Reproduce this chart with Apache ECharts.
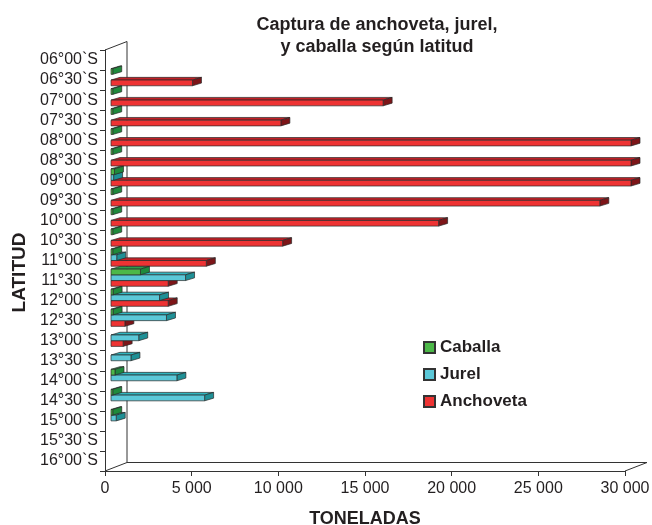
<!DOCTYPE html>
<html>
<head>
<meta charset="utf-8">
<script src="https://cdn.jsdelivr.net/npm/echarts@6/dist/echarts.min.js"></script>
<style>
html,body{margin:0;padding:0;background:#fff;}
#chart{width:652px;height:525px;}
</style>
</head>
<body>
<div id="chart"></div>
<script>
// ---- data ----
const latitudes = ['06°00`S','06°30`S','07°00`S','07°30`S','08°00`S','08°30`S','09°00`S','09°30`S','10°00`S','10°30`S','11°00`S','11°30`S','12°00`S','12°30`S','13°00`S','13°30`S','14°00`S','14°30`S','15°00`S','15°30`S','16°00`S'];
const caballa   = [0, 100, 100, 100, 100, 100, 200, 100, 100, 100, 100, 1700, 120, 120, 0, 0, 230, 100, 100, 0, 0];
const jurel     = [0, 0, 0, 0, 0, 0, 150, 0, 0, 0, 330, 4300, 2800, 3200, 1600, 1150, 3800, 5400, 300, 0, 0];
const anchoveta = [0, 4700, 15700, 9800, 30000, 30000, 30000, 28200, 18900, 9900, 5500, 3300, 3300, 800, 700, 0, 0, 0, 0, 0, 0];
const xTicks = [0, 5000, 10000, 15000, 20000, 25000, 30000];

const FONT = "'Liberation Sans', Arial, sans-serif";
const DEPTH = [22, -8.5];

function fmt(v){ return String(v).replace(/\B(?=(\d{3})+(?!\d))/g, ' '); }

function bar3D(slot, faces){
  return function(params, api){
    const v = api.value(0), ci = api.value(1);
    if (!v) return null;
    const p0 = api.coord([0, ci]);
    const p1 = api.coord([v, ci]);
    const band = api.size([0, 1])[1];
    const h = band * 0.285;
    const x0 = p0[0] + 6, x1 = p1[0] + 6;
    const y0 = p0[1] - band * 0.57 + slot * h;
    const dx = 9, dy = -2.7;
    const st = {stroke:'#2a2a2a', lineWidth:0.7};
    return {
      type:'group',
      children:[
        {type:'polygon', shape:{points:[[x0,y0],[x0+dx,y0+dy],[x1+dx,y0+dy],[x1,y0]]}, style:Object.assign({fill:faces[1]}, st)},
        {type:'polygon', shape:{points:[[x1,y0],[x1+dx,y0+dy],[x1+dx,y0+h+dy],[x1,y0+h]]}, style:Object.assign({fill:faces[2]}, st)},
        {type:'rect', shape:{x:x0, y:y0, width:Math.max(x1-x0,0.5), height:h}, style:Object.assign({fill:faces[0]}, st)}
      ]
    };
  };
}

function wallRender(params, api){
  const cs = params.coordSys;
  const L = cs.x, T = cs.y, R = cs.x + cs.width, B = cs.y + cs.height;
  const dx = DEPTH[0], dy = DEPTH[1];
  const st = {stroke:'#333', lineWidth:1, fill:null};
  return {
    type:'group',
    children:[
      {type:'polyline', shape:{points:[[L,T],[L+dx,T+dy],[L+dx,B+dy],[R+dx,B+dy],[R,B]]}, style:st},
      {type:'line', shape:{x1:L, y1:B, x2:L+dx, y2:B+dy}, style:st}
    ]
  };
}

const greenFaces = ['#4cb848', '#2e9e4a', '#1f8a3c'];
const cyanFaces  = ['#5bc8d8', '#2fb5bf', '#1e8f95'];
const redFaces   = ['#ee3333', '#c42026', '#7d1518'];

const chart = echarts.init(document.getElementById('chart'), null, {renderer:'canvas'});
chart.setOption({
  backgroundColor:'#fff',
  animation:false,
  title:{
    text:'Captura de anchoveta, jurel,\ny caballa según latitud',
    left:372, top:9, textAlign:'center',
    textStyle:{fontFamily:FONT, fontSize:18, fontWeight:'bold', color:'#231f20', lineHeight:22}
  },
  legend:{
    orient:'vertical', left:418, top:334, itemWidth:11, itemHeight:11, itemGap:10,
    icon:'rect',
    data:['Caballa','Jurel','Anchoveta'],
    textStyle:{fontFamily:FONT, fontSize:17, fontWeight:'bold', color:'#231f20'}
  },
  grid:{left:105, top:50, width:520, height:421, containLabel:false, outerBoundsMode:'none'},
  xAxis:{
    type:'value', min:0, max:30000, interval:5000,
    name:'TONELADAS', nameLocation:'middle', nameGap:39,
    nameTextStyle:{fontFamily:FONT, fontSize:18, fontWeight:'bold', color:'#231f20'},
    axisLine:{show:true, lineStyle:{color:'#333', width:1}},
    axisTick:{show:true, length:5, lineStyle:{color:'#333'}},
    axisLabel:{fontFamily:FONT, fontSize:16, color:'#231f20', margin:10, formatter:fmt},
    splitLine:{show:false}
  },
  yAxis:{
    type:'category', data:latitudes, inverse:true,
    name:'LATITUD', nameLocation:'middle', nameGap:76,
    nameTextStyle:{fontFamily:FONT, fontSize:19, fontWeight:'bold', color:'#231f20', padding:[0,24,0,0]},
    axisLine:{show:true, lineStyle:{color:'#333', width:1}},
    axisTick:{show:true, length:5, lineStyle:{color:'#333'}},
    axisLabel:{fontFamily:FONT, fontSize:16, color:'#231f20', margin:7, interval:0},
    splitLine:{show:false}
  },
  series:[
    {type:'custom', name:'wall', silent:true, z:1, renderItem:wallRender, data:[[0,0]], encode:{x:0,y:1}},
    {type:'custom', name:'Anchoveta', z:2, renderItem:bar3D(2, redFaces),
      itemStyle:{color:redFaces[0], borderColor:'#333', borderWidth:1},
      encode:{x:0, y:1}, data:anchoveta.map((v,i)=>[v,i])},
    {type:'custom', name:'Jurel', z:3, renderItem:bar3D(1, cyanFaces),
      itemStyle:{color:cyanFaces[0], borderColor:'#333', borderWidth:1},
      encode:{x:0, y:1}, data:jurel.map((v,i)=>[v,i])},
    {type:'custom', name:'Caballa', z:4, renderItem:bar3D(0, greenFaces),
      itemStyle:{color:greenFaces[0], borderColor:'#333', borderWidth:1},
      encode:{x:0, y:1}, data:caballa.map((v,i)=>[v,i])}
  ]
});
</script>
</body>
</html>
